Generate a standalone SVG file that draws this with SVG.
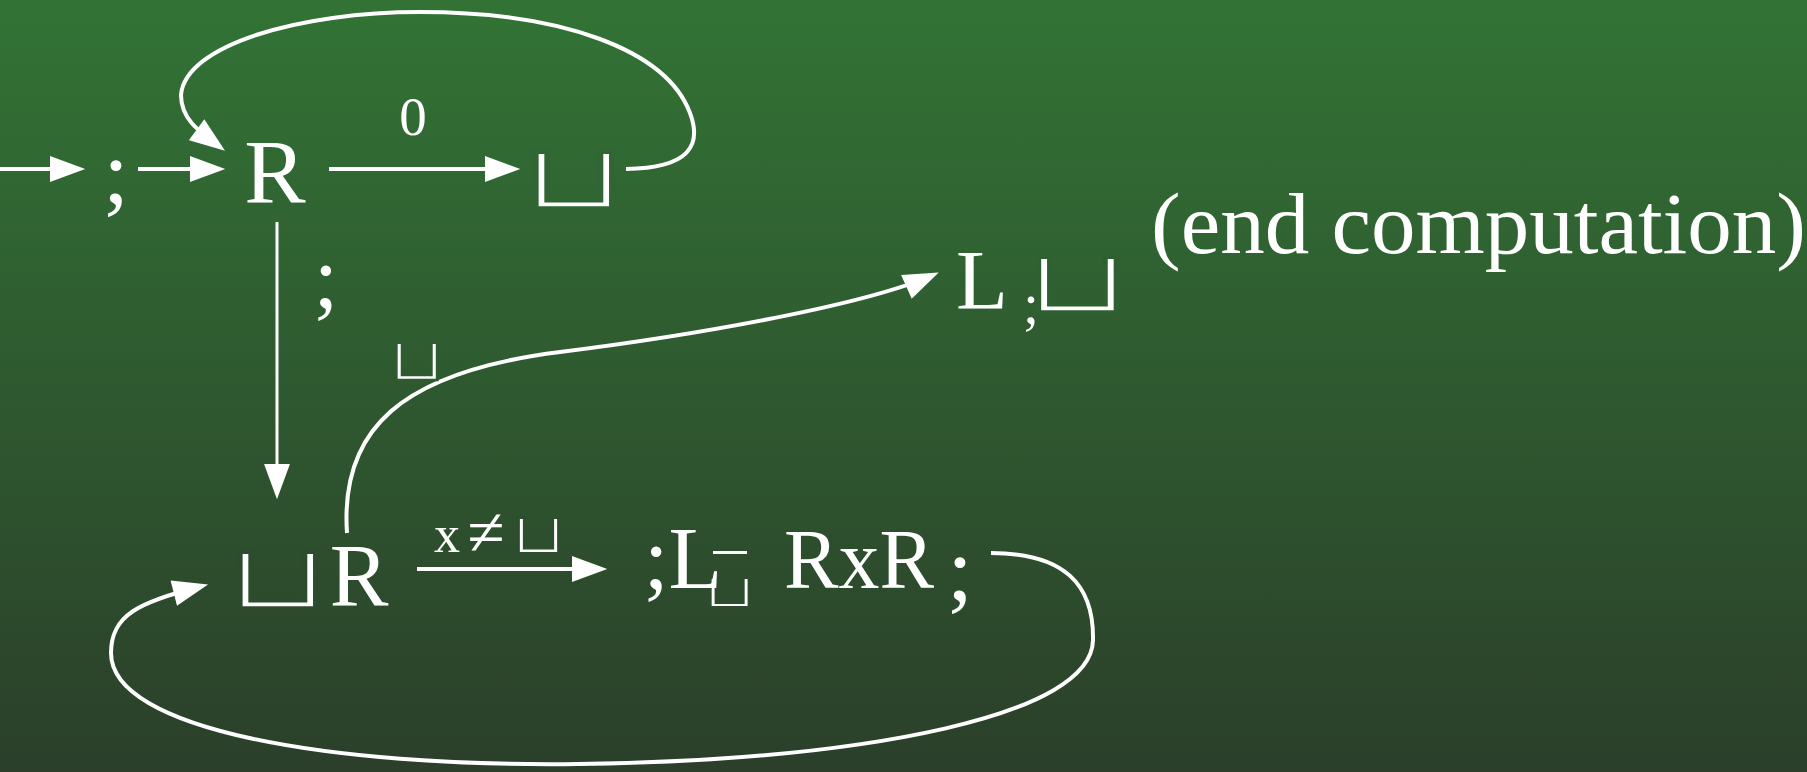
<svg xmlns="http://www.w3.org/2000/svg" width="1807" height="772" viewBox="0 0 1807 772">
  <defs>
    <linearGradient id="bg" x1="0" y1="0" x2="0" y2="1">
      <stop offset="0" stop-color="#327335"/>
      <stop offset="1" stop-color="#2b3f2a"/>
    </linearGradient>
    <marker id="head" markerUnits="userSpaceOnUse" markerWidth="36" markerHeight="26" refX="28" refY="12.5" orient="auto" viewBox="0 0 34 25">
      <path d="M0,0 L34,12.5 L0,25 Z" fill="#ffffff"/>
    </marker>
    <style>
      .tx { font-family: "Liberation Serif", "Times New Roman", serif; fill: #ffffff; }
      /* blank symbol: a background-coloured stroke thins the heavy sans glyph */
      .cup { font-family: "DejaVu Sans", sans-serif; fill: #ffffff; font-size: 100px; stroke-width: 4; stroke-linejoin: miter; }
      .edge { fill: none; stroke: #ffffff; stroke-width: 4; }
      .thin { stroke-width: 3; }
      .arrow { marker-end: url(#head); }
    </style>
  </defs>

  <rect x="0" y="0" width="1807" height="772" fill="url(#bg)"/>

  <!-- connectors -->
  <g id="connectors">
    <path class="edge arrow" d="M0,169 L79,169"/>
    <path class="edge arrow" d="M138,169 L219,169"/>
    <path class="edge arrow" d="M329,169 L514,169"/>
    <path class="edge arrow" d="M626,169 C690,168 702,145 690,113 C666,49 560,12 420,12 C300,12 185,45 181,95 C181,118 197,130 220,147"/>
    <path class="edge thin arrow" d="M277,222 L277,493"/>
    <path class="edge arrow" d="M347,533 C340,430 400,372 560,352 C704,334 868,304 933,275"/>
    <path class="edge arrow" d="M417,569 L601,569"/>
    <path class="edge arrow" d="M991,553 C1065,553 1094,585 1093,640 C1092,715 870,760 578,764 C330,767 111,730 111,653 C111,615 139,602 202,586"/>
  </g>

  <!-- edge labels -->
  <g id="labels">
    <text class="tx" x="413" y="135" font-size="55" text-anchor="middle">0</text>
    <text class="tx" x="326" y="307" font-size="88" text-anchor="middle">;</text>
    <text class="cup" stroke="#2f5b30" transform="translate(388.7,380.2) scale(0.722,0.595)">⊔</text>
    <text class="cup" stroke="#2d4f2d" transform="translate(510.9,553.1) scale(0.704,0.562)">⊔</text>
    <text class="tx" x="447" y="552" font-size="52" text-anchor="middle">x</text>
    <text class="tx" x="486" y="555" font-size="68" text-anchor="middle">≠</text>
  </g>

  <!-- start marker ; -->
  <g id="node-start">
    <text class="tx" x="116" y="203" font-size="92" text-anchor="middle">;</text>
  </g>

  <!-- R (move right) -->
  <g id="node-R">
    <text class="tx" x="275" y="203" font-size="92" text-anchor="middle">R</text>
  </g>

  <!-- write blank -->
  <g id="node-blank">
    <text class="cup" stroke="#306633" transform="translate(521.7,207.8) scale(1.333,0.893)">⊔</text>
  </g>

  <!-- L ; blank  (end computation) -->
  <g id="node-end">
    <text class="cup" stroke="#2f6031" transform="translate(1024.2,311.8) scale(1.370,0.876)">⊔</text>
    <text class="tx" x="982" y="309" font-size="85" text-anchor="middle">L</text>
    <text class="tx" x="1031" y="323" font-size="56" text-anchor="middle">;</text>
    <text class="tx" x="1151" y="253" font-size="86" textLength="655" lengthAdjust="spacingAndGlyphs">(end computation)</text>
  </g>

  <!-- blank R -->
  <g id="node-blankR">
    <text class="cup" stroke="#2d4c2d" transform="translate(225.7,607.8) scale(1.333,0.893)">⊔</text>
    <text class="tx" x="359" y="605" font-size="88" text-anchor="middle">R</text>
  </g>

  <!-- ; L (non-blank) R x R ; -->
  <g id="node-copy">
    <text class="cup" stroke="#2d4b2d" transform="translate(703.1,606.9) scale(0.685,0.463)">⊔</text>
    <rect x="713" y="551" width="34" height="3" fill="#ffffff"/>
    <text class="tx" x="644" y="588" font-size="88">;L</text>
    <text class="tx" x="784" y="588" font-size="85" textLength="150" lengthAdjust="spacingAndGlyphs">RxR</text>
    <text class="tx" x="960" y="600" font-size="92" text-anchor="middle">;</text>
  </g>
</svg>
